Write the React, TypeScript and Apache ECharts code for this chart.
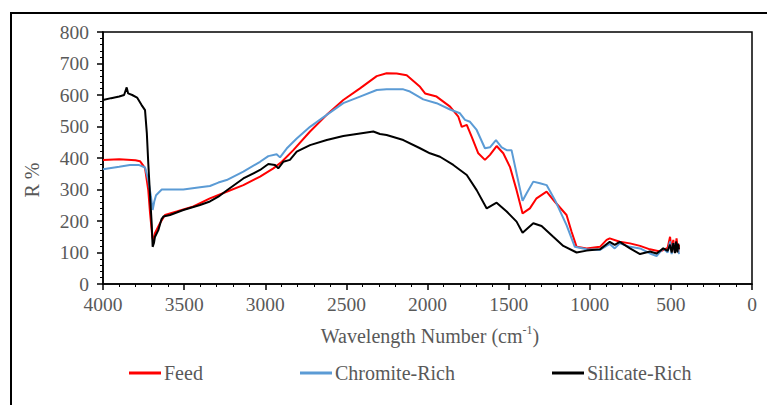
import React, { useEffect, useRef } from "react";
import * as echarts from "echarts";

// Wavenumber (cm-1) and R% readings per series
const feedX = [4000, 3900, 3800, 3772, 3741, 3721, 3710, 3696, 3690, 3680, 3649, 3618, 3546, 3443, 3341, 3238, 3135, 3032, 2950, 2898, 2827, 2724, 2621, 2519, 2416, 2313, 2252, 2190, 2128, 2046, 2015, 1944, 1861, 1810, 1789, 1758, 1728, 1687, 1646, 1615, 1574, 1533, 1492, 1451, 1414, 1369, 1328, 1266, 1215, 1143, 1112, 1081, 1019, 937, 896, 877, 815, 752, 690, 629, 567, 520, 505, 495, 485, 475, 465, 455, 450];
const feedY = [394, 396, 393, 390, 368, 298, 225, 150, 135, 161, 193, 219, 230, 246, 272, 293, 314, 341, 367, 388, 425, 484, 537, 584, 621, 660, 669, 668, 663, 626, 605, 595, 563, 531, 499, 505, 468, 415, 394, 410, 438, 415, 372, 298, 224, 240, 272, 293, 261, 219, 166, 118, 113, 118, 140, 145, 134, 129, 121, 110, 103, 115, 150, 105, 140, 100, 145, 100, 125];

const chromiteX = [4000, 3900, 3834, 3780, 3741, 3721, 3705, 3694, 3684, 3673, 3638, 3505, 3402, 3341, 3289, 3238, 3135, 3032, 2981, 2930, 2909, 2868, 2806, 2724, 2621, 2519, 2416, 2313, 2252, 2149, 2108, 2026, 1944, 1861, 1800, 1769, 1738, 1697, 1646, 1615, 1578, 1543, 1512, 1482, 1451, 1414, 1389, 1348, 1307, 1266, 1215, 1143, 1092, 1019, 937, 877, 846, 815, 752, 690, 629, 588, 547, 520, 505, 495, 485, 470, 460, 450];
const chromiteY = [364, 372, 378, 378, 370, 330, 280, 235, 262, 282, 300, 300, 307, 311, 322, 330, 357, 388, 406, 412, 402, 430, 462, 499, 537, 574, 595, 616, 618, 618, 611, 586, 574, 554, 542, 521, 515, 489, 431, 434, 457, 434, 425, 425, 351, 264, 288, 325, 320, 314, 267, 187, 118, 110, 108, 127, 113, 129, 118, 113, 97, 89, 113, 100, 135, 95, 130, 105, 125, 95];

const silicateX = [4000, 3950, 3900, 3870, 3854, 3845, 3820, 3790, 3762, 3741, 3730, 3721, 3710, 3700, 3694, 3686, 3680, 3659, 3640, 3628, 3587, 3505, 3402, 3341, 3289, 3238, 3135, 3032, 2981, 2940, 2920, 2889, 2848, 2806, 2724, 2621, 2519, 2416, 2334, 2293, 2252, 2149, 2046, 1985, 1923, 1841, 1758, 1697, 1635, 1574, 1512, 1451, 1414, 1348, 1297, 1225, 1163, 1081, 1019, 937, 877, 846, 815, 752, 690, 629, 588, 547, 520, 505, 495, 485, 475, 468, 460, 455, 450];
const silicateY = [584, 590, 595, 600, 624, 605, 600, 592, 568, 552, 480, 384, 280, 193, 118, 130, 149, 171, 205, 214, 219, 235, 251, 262, 277, 297, 335, 362, 381, 378, 367, 388, 394, 420, 441, 457, 470, 478, 484, 476, 473, 457, 431, 415, 404, 378, 346, 298, 240, 258, 230, 198, 163, 193, 184, 150, 121, 100, 106, 110, 134, 124, 134, 113, 95, 103, 97, 113, 105, 125, 100, 130, 98, 135, 100, 128, 110];

const seriesNames = ["Feed", "Chromite-Rich", "Silicate-Rich"];
const seriesColors = ["#FF0000", "#5B9BD5", "#000000"];

const FONT = "Liberation Serif";
const GRAY = "#595959";

function zip(xs: number[], ys: number[]) {
  return xs.map((x, i) => [x, ys[i]]);
}

export default function App() {
  const ref = useRef<HTMLDivElement>(null);
  useEffect(() => {
    if (!ref.current) return;
    const chart = echarts.init(ref.current, undefined, { renderer: "svg" });
    const datasets = [zip(feedX, feedY), zip(chromiteX, chromiteY), zip(silicateX, silicateY)];
    const legendLefts = [129, 300, 552];
    chart.setOption({
      animation: false,
      backgroundColor: "#ffffff",
      grid: {
        left: 103,
        top: 32,
        right: 15,
        bottom: 121,
        show: true,
        borderColor: "#000",
        borderWidth: 1.5,
        outerBoundsMode: "none",
      },
      legend: seriesNames.map((n, i) => ({
        data: [n],
        left: legendLefts[i],
        top: 363,
        itemWidth: 32,
        itemHeight: 3,
        icon: "rect",
        padding: 0,
        textStyle: { color: GRAY, fontFamily: FONT, fontSize: 20, padding: [0, 0, 0, -2] },
      })),
      xAxis: {
        type: "value",
        min: 0,
        max: 4000,
        interval: 500,
        inverse: true,
        axisLine: { show: true, onZero: false, lineStyle: { color: "#000", width: 1.5 } },
        axisTick: { show: true, length: 6, lineStyle: { color: "#000", width: 1.5 } },
        minorTick: { show: true, splitNumber: 5, length: 3, lineStyle: { color: "#000", width: 1 } },
        axisLabel: {
          color: GRAY,
          fontFamily: FONT,
          fontSize: 19.5,
          margin: 10,
          formatter: (v: number) => String(v),
        },
        splitLine: { show: false },
        minorSplitLine: { show: false },
      },
      yAxis: {
        type: "value",
        min: 0,
        max: 800,
        interval: 100,
        axisLine: { show: true, onZero: false, lineStyle: { color: "#000", width: 1.5 } },
        axisTick: { show: true, length: 6, lineStyle: { color: "#000", width: 1.5 } },
        minorTick: { show: true, splitNumber: 5, length: 3, lineStyle: { color: "#000", width: 1 } },
        axisLabel: {
          color: GRAY,
          fontFamily: FONT,
          fontSize: 19.5,
          margin: 14,
          formatter: (v: number) => String(v),
        },
        splitLine: { show: false },
        minorSplitLine: { show: false },
      },
      graphic: [
        {
          type: "rect",
          shape: { x: 11, y: 13, width: 820, height: 460 },
          style: { fill: "none", stroke: "#000", lineWidth: 2 },
          silent: true,
        },
        {
          type: "text",
          x: 32,
          y: 180,
          rotation: Math.PI / 2,
          style: {
            text: "R %",
            fill: GRAY,
            fontFamily: FONT,
            fontSize: 20,
            align: "center",
            verticalAlign: "middle",
          },
        },
        {
          type: "text",
          x: 430,
          y: 335,
          style: {
            text: "{a|Wavelength Number (cm}{s|-1}{a|)}",
            align: "center",
            verticalAlign: "middle",
            rich: {
              a: { fill: GRAY, fontFamily: FONT, fontSize: 20, lineHeight: 22, verticalAlign: "bottom" },
              s: { fill: GRAY, fontFamily: FONT, fontSize: 12, lineHeight: 12, verticalAlign: "top" },
            },
          },
        },
      ],
      series: seriesNames.map((n, i) => ({
        name: n,
        type: "line",
        data: datasets[i],
        showSymbol: false,
        symbol: "none",
        color: seriesColors[i],
        lineStyle: { color: seriesColors[i], width: 2 },
      })),
    });
    return () => chart.dispose();
  }, []);
  return (
    <div
      ref={ref}
      style={{ position: "fixed", left: 0, top: 0, width: 767, height: 405, background: "#fff" }}
    />
  );
}
